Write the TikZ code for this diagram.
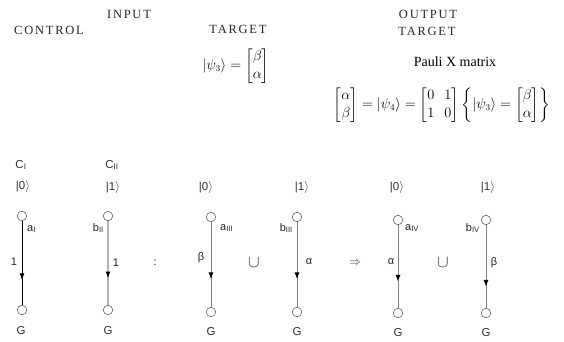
\documentclass[tikz,border=0pt]{standalone}
\usepackage{amsmath}
\usepackage{fontspec}
\setmainfont{Liberation Serif}
\newfontfamily\capsfont[LetterSpace=14]{Liberation Serif}
\newfontfamily\labfont{Liberation Sans}
\usetikzlibrary{decorations.markings,arrows.meta}
\begin{document}
\begin{tikzpicture}[x=1pt,y=-1pt,
  capslab/.style={font=\capsfont\fontsize{12.5}{14}\selectfont, inner sep=0pt, text=black!85},
  mathlab/.style={font=\fontsize{13.5}{16}\selectfont, inner sep=0pt},
  lab/.style={font=\labfont\fontsize{11.5}{13}\selectfont, inner sep=0pt, text=black!80},
  elab/.style={font=\labfont\fontsize{11}{13}\selectfont, inner sep=0pt, text=black!85},
  vtx/.style={circle, draw=black!60, line width=0.6pt, minimum size=9.5pt, inner sep=0pt},
  midarrow/.style={postaction={decorate}, decoration={markings, mark=at position #1 with {\arrow[black]{Latex[length=6.5pt,width=5pt]}}}},
  blackedge/.style={draw=black, line width=0.6pt, midarrow=#1},
  grayedge/.style={draw=black!50, line width=0.7pt, midarrow=#1},
  lightedge/.style={draw=black!30, line width=1.2pt, midarrow=#1},
  sym/.style={inner sep=0pt, text=black!80}
]
\useasboundingbox (0,0) rectangle (564,341);
\fill[white] (0,0) rectangle (564,341);

% headings
\node[capslab] (input) at (129,14) {INPUT};
\node[capslab] (control) at (49,30) {CONTROL};
\node[capslab] (target1) at (238,29) {TARGET};
\node[capslab] (output) at (428,14) {OUTPUT};
\node[capslab] (target2) at (427,31) {TARGET};
\node[font=\fontsize{14}{16}\selectfont, inner sep=0pt] (pauli) at (455,62) {Pauli X matrix};

% equations
\node[mathlab] (eq1) at (236,66) {\renewcommand{\arraystretch}{1.1}$|\psi_3\rangle=\begin{bmatrix}\beta\\ \alpha\end{bmatrix}$};
\node[mathlab] (eq2) at (442,105) {\renewcommand{\arraystretch}{1.15}$\begin{bmatrix}\alpha\\ \beta\end{bmatrix}=|\psi_4\rangle=\begin{bmatrix}0&1\\1&0\end{bmatrix}\left\{|\psi_3\rangle=\begin{bmatrix}\beta\\ \alpha\end{bmatrix}\right\}$};

% column labels
\node[lab] (c1) at (21,165) {C\textsubscript{I}};
\node[lab] (c2) at (112,165) {C\textsubscript{II}};
\node[lab] (k1) at (23,186) {|0$\rangle$};
\node[lab] (k2) at (113,187) {|1$\rangle$};
\node[lab] (k3) at (206,187) {|0$\rangle$};
\node[lab] (k4) at (302,187) {|1$\rangle$};
\node[lab] (k5) at (397,187) {|0$\rangle$};
\node[lab] (k6) at (488,187) {|1$\rangle$};

% vertices
\node[vtx] (t1) at (22,216) {};
\node[vtx] (b1) at (22,310) {};
\node[vtx] (t2) at (108,216) {};
\node[vtx] (b2) at (108,310) {};
\node[vtx] (t3) at (211,217) {};
\node[vtx] (b3) at (211,312) {};
\node[vtx] (t4) at (297,217) {};
\node[vtx] (b4) at (297,312) {};
\node[vtx] (t5) at (398,220) {};
\node[vtx] (b5) at (398,313) {};
\node[vtx] (t6) at (486,220) {};
\node[vtx] (b6) at (486,313) {};

% edges
\draw[blackedge=0.7] (t1) -- (b1);
\draw[lightedge=0.68] (t2) -- (b2);
\draw[grayedge=0.67] (t3) -- (b3);
\draw[grayedge=0.67] (t4) -- (b4);
\draw[grayedge=0.68] (t5) -- (b5);
\draw[grayedge=0.74] (t6) -- (b6);

% G labels
\node[lab] (g1) at (21,331) {G};
\node[lab] (g2) at (108,331) {G};
\node[lab] (g3) at (211,332) {G};
\node[lab] (g4) at (297,332) {G};
\node[lab] (g5) at (398,333) {G};
\node[lab] (g6) at (486,333) {G};

% edge labels
\node[elab, anchor=west] (a1) at (27,229) {a\textsubscript{I}};
\node[elab] (w1) at (14,262) {1};
\node[elab, anchor=east] (b2l) at (104,228) {b\textsubscript{II}};
\node[elab] (w2) at (116,263) {1};
\node[elab, anchor=west] (a3) at (220,228) {a\textsubscript{III}};
\node[elab] (w3) at (201,258) {β};
\node[elab, anchor=east] (b4l) at (293,228) {b\textsubscript{III}};
\node[elab] (w4) at (309,262) {α};
\node[elab, anchor=west] (a5) at (405,228) {a\textsubscript{IV}};
\node[elab] (w5) at (391,262) {α};
\node[elab, anchor=east] (b6l) at (480,228) {b\textsubscript{IV}};
\node[elab] (w6) at (494,263) {β};

% operators
\node[sym, font=\fontsize{12}{13}\selectfont] (colon) at (155,263) {:};
\node[sym, font=\fontsize{17}{19}\selectfont] (cup1) at (254,263) {$\cup$};
\node[sym, font=\fontsize{13}{14}\selectfont] (impl) at (355,263) {$\Rightarrow$};
\node[sym, font=\fontsize{17}{19}\selectfont] (cup2) at (443,263) {$\cup$};
\end{tikzpicture}
\end{document}
